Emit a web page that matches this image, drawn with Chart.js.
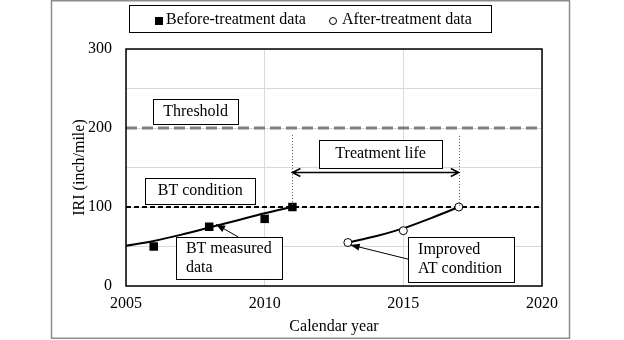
<!DOCTYPE html>
<html>
<head>
<meta charset="utf-8">
<script src="https://cdn.jsdelivr.net/npm/chart.js@4/dist/chart.umd.min.js"></script>
<style>
  html, body { margin: 0; padding: 0; background: #fff; }
  #chart { display: block; }
</style>
</head>
<body>
<canvas id="chart" width="624" height="340"></canvas>
<script>
// ---- data ----
const btYears = [2006, 2008, 2010, 2011];
const btIRI = [50, 75, 85, 100];
const atYears = [2013, 2015, 2017];
const atIRI = [55, 70, 100];

// fitted curves
const btFitYears = [2005, 2006, 2007, 2008, 2009, 2010, 2011];
const btFitIRI = [51, 57, 65, 74, 83, 92, 100];
const atFitYears = [2013, 2014, 2015, 2016, 2017];
const atFitIRI = [55, 63, 73, 86, 100];

const limitYears = [2005, 2020];
const thresholdIRI = [200, 200];
const btConditionIRI = [100, 100];

const xTickLabels = [2005, 2010, 2015, 2020];
const yTickLabels = [0, 100, 200, 300];

const FONT = "'Liberation Serif', 'Times New Roman', serif";
const FS = 16;

const toPoints = (xs, ys) => xs.map((x, i) => ({ x, y: ys[i] }));

// annotation helpers (positions given in data units)
function drawBox(c, sx, sy, b) {
  const l = sx.getPixelForValue(b.x0), r = sx.getPixelForValue(b.x1);
  const t = sy.getPixelForValue(b.y0), btm = sy.getPixelForValue(b.y1);
  c.fillStyle = '#fff';
  c.fillRect(l, t, r - l, btm - t);
  c.strokeStyle = '#000';
  c.lineWidth = 1;
  c.strokeRect(Math.round(l) + 0.5, Math.round(t) + 0.5, Math.round(r - l), Math.round(btm - t));
  c.fillStyle = '#000';
  c.font = `${FS}px ${FONT}`;
  c.textBaseline = 'middle';
  const lh = 19;
  const y0 = (t + btm) / 2 - (b.lines.length - 1) * lh / 2;
  b.lines.forEach((s, i) => {
    if (b.align === 'left') {
      c.textAlign = 'left';
      c.fillText(s, l + 10, y0 + i * lh);
    } else {
      c.textAlign = 'center';
      c.fillText(s, (l + r) / 2, y0 + i * lh);
    }
  });
}

function drawArrow(c, x1, y1, x2, y2) {
  const a = Math.atan2(y2 - y1, x2 - x1);
  c.strokeStyle = '#000';
  c.fillStyle = '#000';
  c.lineWidth = 1;
  c.beginPath();
  c.moveTo(x1, y1);
  c.lineTo(x2, y2);
  c.stroke();
  c.beginPath();
  c.moveTo(x2, y2);
  c.lineTo(x2 - 9 * Math.cos(a) + 3.5 * Math.sin(a), y2 - 9 * Math.sin(a) - 3.5 * Math.cos(a));
  c.lineTo(x2 - 9 * Math.cos(a) - 3.5 * Math.sin(a), y2 - 9 * Math.sin(a) + 3.5 * Math.cos(a));
  c.closePath();
  c.fill();
}

const annotations = {
  id: 'annotations',
  beforeDraw(chart) {
    const c = chart.ctx;
    c.save();
    c.fillStyle = '#fff';
    c.fillRect(0, 0, chart.width, chart.height);
    // outer chart frame
    c.strokeStyle = '#8c8c8c';
    c.lineWidth = 1.5;
    c.strokeRect(51.5, 0.75, 518, 337.5);
    c.restore();
  },
  afterDatasetsDraw(chart) {
    const c = chart.ctx;
    const sx = chart.scales.x, sy = chart.scales.y;
    const a = chart.chartArea;
    c.save();

    // plot frame
    c.strokeStyle = '#000';
    c.lineWidth = 1.5;
    c.strokeRect(a.left, a.top, a.right - a.left, a.bottom - a.top);

    // dotted verticals marking treatment life
    c.strokeStyle = '#555';
    c.lineWidth = 1;
    c.setLineDash([1, 2]);
    [[2011, 191], [2017, 190]].forEach(([yr, top]) => {
      const px = Math.round(sx.getPixelForValue(yr)) + 0.5;
      c.beginPath();
      c.moveTo(px, sy.getPixelForValue(top));
      c.lineTo(px, sy.getPixelForValue(100));
      c.stroke();
    });
    c.setLineDash([]);

    // double arrow
    const ay = Math.round(sy.getPixelForValue(144)) + 0.5;
    const ax1 = sx.getPixelForValue(2011), ax2 = sx.getPixelForValue(2017);
    c.strokeStyle = '#000';
    c.lineWidth = 1.5;
    c.beginPath();
    c.moveTo(ax1, ay); c.lineTo(ax2, ay);
    c.moveTo(ax1 + 8, ay - 4); c.lineTo(ax1, ay); c.lineTo(ax1 + 8, ay + 4);
    c.moveTo(ax2 - 8, ay - 4); c.lineTo(ax2, ay); c.lineTo(ax2 - 8, ay + 4);
    c.stroke();

    // pointer arrows
    drawArrow(c, sx.getPixelForValue(2009.05), sy.getPixelForValue(62),
      sx.getPixelForValue(2008.25), sy.getPixelForValue(78));
    drawArrow(c, sx.getPixelForValue(2015.17), sy.getPixelForValue(34),
      sx.getPixelForValue(2013.1), sy.getPixelForValue(52));

    // text boxes
    [
      { x0: 2005.97, x1: 2009.05, y0: 237, y1: 205, lines: ['Threshold'] },
      { x0: 2011.96, x1: 2016.4, y0: 185, y1: 149.5, lines: ['Treatment life'] },
      { x0: 2005.7, x1: 2009.65, y0: 137, y1: 104, lines: ['BT condition'] },
      { x0: 2006.8, x1: 2010.63, y0: 62, y1: 9, lines: ['BT measured', 'data'], align: 'left' },
      { x0: 2015.17, x1: 2019.0, y0: 62, y1: 5, lines: ['Improved', 'AT condition'], align: 'left' }
    ].forEach(b => drawBox(c, sx, sy, b));

    // legend
    c.strokeStyle = '#000';
    c.lineWidth = 1;
    c.strokeRect(129.5, 5.5, 362, 27);
    c.fillStyle = '#000';
    c.fillRect(155, 17, 8, 8);
    c.beginPath();
    c.arc(333, 21, 3.5, 0, Math.PI * 2);
    c.stroke();
    c.font = `${FS}px ${FONT}`;
    c.textAlign = 'left';
    c.textBaseline = 'middle';
    c.fillText('Before-treatment data', 166, 20);
    c.fillText('After-treatment data', 342, 20);

    c.restore();
  }
};

new Chart(document.getElementById('chart'), {
  type: 'scatter',
  data: {
    datasets: [
      {
        label: 'Before-treatment data',
        data: toPoints(btYears, btIRI),
        pointStyle: 'rect',
        pointRadius: 6,
        backgroundColor: '#000',
        borderColor: '#000',
        borderWidth: 0
      },
      {
        label: 'After-treatment data',
        data: toPoints(atYears, atIRI),
        pointStyle: 'circle',
        pointRadius: 4,
        backgroundColor: '#fff',
        borderColor: '#000',
        borderWidth: 1
      },
      {
        label: 'BT fit',
        data: toPoints(btFitYears, btFitIRI),
        showLine: true,
        pointRadius: 0,
        borderColor: '#000',
        borderWidth: 2,
        cubicInterpolationMode: 'monotone'
      },
      {
        label: 'AT fit',
        data: toPoints(atFitYears, atFitIRI),
        showLine: true,
        pointRadius: 0,
        borderColor: '#000',
        borderWidth: 2,
        cubicInterpolationMode: 'monotone'
      },
      {
        label: 'BT condition',
        data: toPoints(limitYears, btConditionIRI),
        showLine: true,
        pointRadius: 0,
        borderColor: '#000',
        borderWidth: 2,
        borderDash: [5, 3]
      },
      {
        label: 'Threshold',
        data: toPoints(limitYears, thresholdIRI),
        showLine: true,
        pointRadius: 0,
        borderColor: '#808080',
        borderWidth: 3,
        borderDash: [11, 5]
      }
    ]
  },
  options: {
    responsive: false,
    animation: false,
    layout: { padding: { left: 70, right: 82, top: 49, bottom: 0 } },
    plugins: {
      legend: { display: false },
      tooltip: { enabled: false }
    },
    scales: {
      x: {
        type: 'linear',
        min: 2005,
        max: 2020,
        afterFit: s => { s.height = 54; },
        afterBuildTicks: s => { s.ticks = xTickLabels.map(v => ({ value: v })); },
        ticks: {
          color: '#000',
          font: { family: FONT, size: FS },
          padding: 8,
          callback: v => String(v)
        },
        grid: { color: '#d9d9d9', drawTicks: false },
        border: { display: false },
        title: {
          display: true,
          text: 'Calendar year',
          color: '#000',
          font: { family: FONT, size: FS },
          padding: { top: 0, bottom: 4 }
        }
      },
      y: {
        min: 0,
        max: 300,
        afterFit: s => { s.width = 56; },
        ticks: {
          stepSize: 50,
          color: '#000',
          font: { family: FONT, size: FS },
          padding: 14,
          callback: v => (yTickLabels.includes(v) ? v : '')
        },
        grid: { color: '#d9d9d9', drawTicks: false },
        border: { display: false },
        title: {
          display: true,
          text: 'IRI (inch/mile)',
          color: '#000',
          font: { family: FONT, size: FS },
          padding: 0
        }
      }
    }
  },
  plugins: [annotations]
});
</script>
</body>
</html>
